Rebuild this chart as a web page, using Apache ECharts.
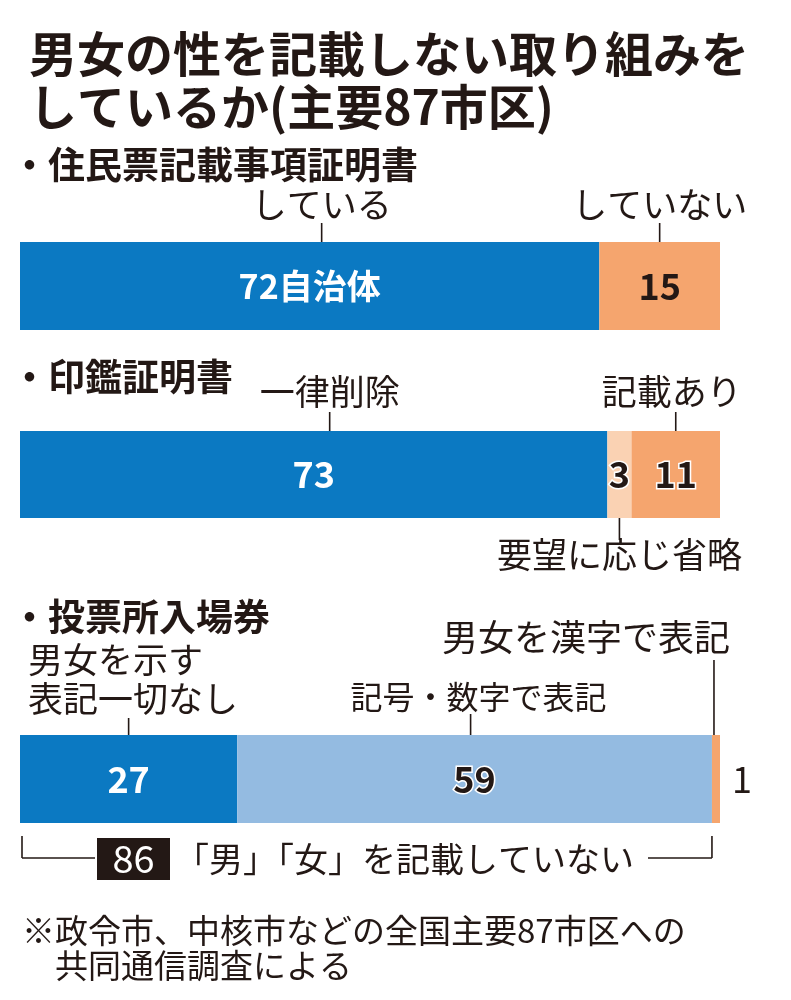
<!DOCTYPE html>
<html><head><meta charset="utf-8">
<script src="https://cdn.jsdelivr.net/npm/echarts@6/dist/echarts.min.js"></script>
<style>html,body{margin:0;padding:0;background:#fff}#c{width:791px;height:1000px}</style>
</head><body><div id="c"></div>
<script>
// ---- data ----
const titleLines = ['男女の性を記載しない取り組みを', 'しているか(主要87市区)'];
const sectionTitles = ['・住民票記載事項証明書', '・印鑑証明書', '・投票所入場券'];
const total = 87;
const s1Names = ['している', 'していない'];
const s1Values = [72, 15];
const s2Names = ['一律削除', '要望に応じ省略', '記載あり'];
const s2Values = [73, 3, 11];
const s3Names = ['男女を示す\n表記一切なし', '記号・数字で表記', '男女を漢字で表記'];
const s3Values = [27, 59, 1];
const notRecordedCount = 86;
const notRecordedText = '「男」「女」を記載していない';
const footnoteLines = ['※政令市、中核市などの全国主要87市区への', '共同通信調査による'];
const unitSuffix = '自治体';

// ---- style ----
const FONT = '"Noto Sans CJK JP", "Noto Sans", sans-serif';
const INK = '#231815';
const DARK_BLUE = '#0B79C2';
const LIGHT_BLUE = '#94BBE1';
const ORANGE = '#F5A56E';
const PALE_ORANGE = '#FAD2B3';
const GRID_LEFT = 20, GRID_W = 700;
const grids = [{top: 242, h: 88}, {top: 431, h: 87}, {top: 735, h: 88}];

const groups = [
  {names: s1Names, values: s1Values, colors: [DARK_BLUE, ORANGE]},
  {names: s2Names, values: s2Values, colors: [DARK_BLUE, PALE_ORANGE, ORANGE]},
  {names: s3Names, values: s3Values, colors: [DARK_BLUE, LIGHT_BLUE, ORANGE]}
];

const chart = echarts.init(document.getElementById('c'), null, {renderer: 'canvas'});

const series = [];
groups.forEach((g, gi) => {
  g.names.forEach((n, si) => {
    const dark = g.colors[si] !== DARK_BLUE;
    let label = {
      show: true, position: 'inside', fontFamily: FONT, fontWeight: 'bold', fontSize: 36,
      color: dark ? INK : '#fff',
      textBorderColor: dark ? '#fff' : 'transparent', textBorderWidth: dark ? 3 : 0,
      formatter: (p) => (gi === 0 && si === 0) ? p.value + unitSuffix : String(p.value)
    };
    if (gi === 0 && si === 1) { label.textBorderWidth = 0; }
    if (gi === 0 && si === 0) { label.fontSize = 34; }
    if (gi === 2 && si === 2) {
      label.position = 'right'; label.distance = 12; label.textBorderWidth = 0; label.fontWeight = 'normal';
    }
    series.push({
      type: 'bar', name: n.replace('\n', ''), stack: 'g' + gi,
      xAxisIndex: gi, yAxisIndex: gi, barWidth: '100%',
      itemStyle: {color: g.colors[si]},
      label: label, silent: true,
      data: [g.values[si]]
    });
  });
});

const option = {
  animation: false,
  backgroundColor: '#fff',
  title: [
    {text: titleLines.join('\n'), left: 24, top: 22,
     textStyle: {fontFamily: FONT, fontWeight: 'bold', fontSize: 48, lineHeight: 53, color: INK}},
    ...sectionTitles.map((t, i) => ({
      text: t, left: 6, top: [139, 351, 591][i],
      textStyle: {fontFamily: FONT, fontWeight: 'bold', fontSize: 37, lineHeight: 42, color: INK}
    }))
  ],
  grid: grids.map(g => ({left: GRID_LEFT, width: GRID_W, top: g.top, height: g.h})),
  xAxis: grids.map((g, i) => ({type: 'value', gridIndex: i, min: 0, max: total, show: false})),
  yAxis: grids.map((g, i) => ({type: 'category', gridIndex: i, data: [sectionTitles[i]], show: false})),
  series: series
};
chart.setOption(option);

// ---- annotations placed via the axes ----
function px(gi, v) { return chart.convertToPixel({xAxisIndex: gi}, v); }
function segCenter(gi, si) {
  const vals = groups[gi].values;
  let s = 0; for (let k = 0; k < si; k++) s += vals[k];
  return px(gi, s + vals[si] / 2);
}
const els = [];
function text(x, y, str, opts) {
  els.push({type: 'text', x: x, y: y, silent: true,
    style: Object.assign({text: str, fontFamily: FONT, fontSize: 35, fill: INK,
      align: 'center', verticalAlign: 'middle'}, opts || {})});
}
function line(x1, y1, x2, y2) {
  els.push({type: 'line', silent: true, shape: {x1, y1, x2, y2}, style: {stroke: INK, lineWidth: 1.6}});
}

// bar 1
[0, 1].forEach(si => {
  const x = segCenter(0, si) + (si === 0 ? 12 : 0);
  text(x, 205, s1Names[si]);
  line(x, 223, x, grids[0].top);
});
// bar 2
{
  const x0 = segCenter(1, 0) + 16;
  text(x0, 392, s2Names[0]);
  line(x0, 412, x0, grids[1].top);
  const x1 = segCenter(1, 1);
  line(x1, grids[1].top + grids[1].h, x1, 540);
  text(x1, 555, s2Names[1]);
  const x2 = segCenter(1, 2);
  text(x2 - 4, 392, s2Names[2]);
  line(x2, 412, x2, grids[1].top);
}
// bar 3
{
  const x0 = segCenter(2, 0);
  const parts = s3Names[0].split('\n');
  text(28, 660, parts[0], {align: 'left'});
  text(28, 699, parts[1], {align: 'left'});
  line(x0, 718, x0, grids[2].top);
  const x1 = segCenter(2, 1);
  text(x1 + 4, 697, s3Names[1], {fontSize: 32});
  line(x1 - 4, 714, x1 - 4, grids[2].top);
  const x2 = segCenter(2, 2);
  text(x2 + 14, 637, s3Names[2], {align: 'right', fontSize: 36});
  line(x2 - 2, 660, x2 - 2, grids[2].top);
}
// bracket under bar 3
{
  const xl = px(2, 0) + 2;
  const xr = px(2, notRecordedCount);
  const yb = 858;
  line(xl, 836, xl, yb);
  line(xl, yb, 95, yb);
  els.push({type: 'rect', silent: true, shape: {x: 97, y: 838, width: 73, height: 42}, style: {fill: '#231815'}});
  text(133.5, 859, String(notRecordedCount), {fill: '#fff', fontSize: 38});
  text(175, 859, notRecordedText, {align: 'left', fontSize: 34});
  line(648, yb, xr, yb);
  line(xr, 836, xr, yb);
}
// footnote
text(22, 930, footnoteLines[0], {align: 'left', fontSize: 33});
text(55, 965, footnoteLines[1], {align: 'left', fontSize: 33});

chart.setOption({graphic: els});
</script></body></html>
